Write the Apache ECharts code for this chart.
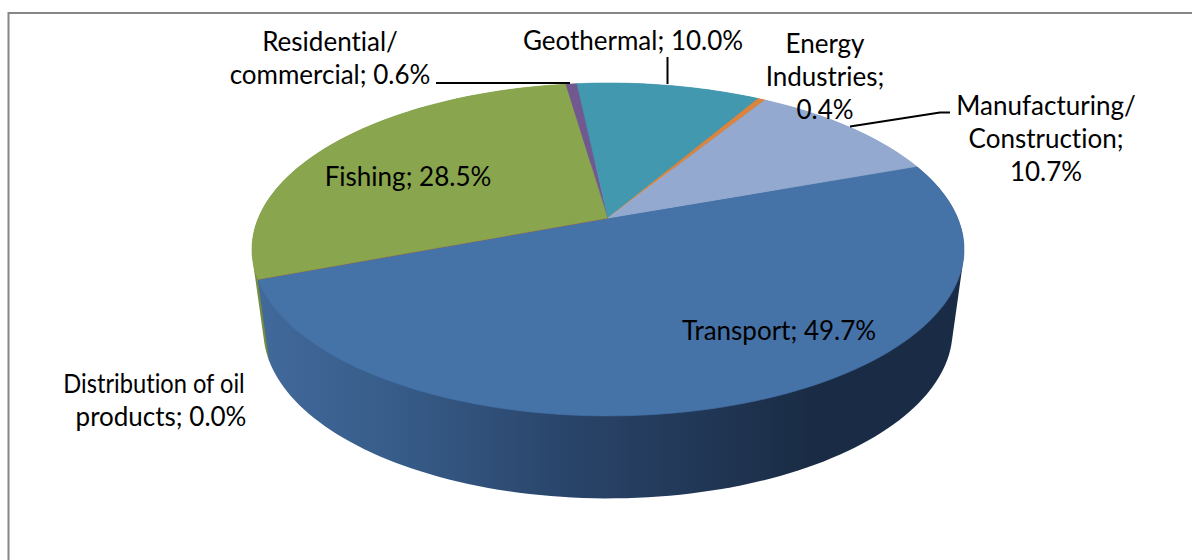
<!DOCTYPE html>
<html><head><meta charset="utf-8">
<style>html,body{margin:0;padding:0;background:#fff}#c{width:1192px;height:560px}
#c text{font-variant-ligatures:none !important;font-feature-settings:"liga" 0,"clig" 0 !important}</style>
<script src="https://cdn.jsdelivr.net/npm/echarts@6/dist/echarts.min.js"></script>
</head><body><div id="c"></div>
<script>
// ---- data, clockwise from the first slice ----
const categories = ['Transport','Distribution of oil products','Fishing','Residential/commercial','Geothermal','Energy Industries','Manufacturing/Construction'];
const shares = [49.7, 0.0, 28.5, 0.6, 10.0, 0.4, 10.7];
const labelLines = [
  ['Transport; 49.7%'],
  ['Distribution of oil','products; 0.0%'],
  ['Fishing; 28.5%'],
  ['Residential/','commercial; 0.6%'],
  ['Geothermal; 10.0%'],
  ['Energy','Industries;','0.4%'],
  ['Manufacturing/','Construction;','10.7%']
];
const sliceColors = ['#4572A7','#AA4643','#89A54E','#71588F','#4198AF','#DB843D','#93A9CF'];
const sideColors  = ['#4572A7','#8a3836','#738c3f','#5c4775','#357d90','#b36c32','#7a8eb0'];
// label anchor (centre x, first-line centre y); per-line x shift and horizontal squeeze
const labelAnchors = [[779,329.5],[154,382.5],[408,175.5],[330,40.5],[633,39.5],[825,42.5],[1046,104.5]];
const lineShift = {1:[0,7]};
const lineSqueeze = {1:[0.91,1]};
const leaders = [null,null,null,[[436,83],[570,83]],[[667.5,57],[667.5,84]],null,[[950,112.5],[940,112.5],[850,126.5]]];

// ---- projection of the tilted disc ----
const apex = {x:608,y:218}, cX = 349.6, kP = 0.189, aP = -119.3, startDeg = 20;
const floor = {sx:0.968, sy:1.01, y:298.5};
const FONT = '26px Lato';
const LINE = 33;

function rim(deg, lower){
  const t = deg*Math.PI/180, X = Math.cos(t), Y = Math.sin(t), w = 1+kP*Y;
  const x = apex.x + cX*X/w, y = (apex.y + aP*Y)/w;
  return lower ? [apex.x+(x-apex.x)*floor.sx, floor.y+(y-apex.y)*floor.sy] : [x,y];
}
const total = shares.reduce((a,b)=>a+b,0);
function range(i){
  let s = 0; for(let j=0;j<i;j++) s += shares[j];
  return [startDeg - s/total*360, startDeg - (s+shares[i])/total*360];
}
function arc(a,b,lower){
  const n = Math.max(1,Math.ceil(Math.abs(a-b)/1.5)), o=[];
  for(let i=0;i<=n;i++) o.push(rim(a+(b-a)*i/n,lower));
  return o;
}
function hull(pts){
  const p = pts.slice().sort((a,b)=>a[0]-b[0]||a[1]-b[1]);
  const cr=(o,a,b)=>(a[0]-o[0])*(b[1]-o[1])-(a[1]-o[1])*(b[0]-o[0]);
  const l=[],u=[];
  for(const q of p){while(l.length>1&&cr(l[l.length-2],l[l.length-1],q)<=0)l.pop();l.push(q);}
  for(const q of p.slice().reverse()){while(u.length>1&&cr(u[u.length-2],u[u.length-1],q)<=0)u.pop();u.push(q);}
  return l.slice(0,-1).concat(u.slice(0,-1));
}
const idx = shares.map((_,i)=>i);
const wallGradient = new echarts.graphic.LinearGradient(258,0,810,0,[
  {offset:0,color:'#41699b'},{offset:0.25,color:'#375c89'},{offset:0.55,color:'#2a456b'},{offset:1,color:'#1a2c45'}
],true);

const option = {
  animation:false,
  backgroundColor:'#fff',
  graphic:[{type:'rect',silent:true,z:0,shape:{x:8.5,y:13,width:1300,height:700},style:{fill:'#fff',stroke:'#868686',lineWidth:2}}],
  series:[
    {type:'custom',coordinateSystem:'none',z:1,silent:true,name:'wall',
     data:idx.slice().reverse().map(i=>({name:categories[i],value:[shares[i],i]})),
     renderItem(p,api){
       const i=api.value(1), [a,b]=range(i);
       if(a===b) return {type:'group',children:[]};
       return {type:'polygon',shape:{points:hull(arc(a,b,false).concat(arc(a,b,true)))},
               style:{fill:i===0?wallGradient:sideColors[i]}};
     }},
    {type:'custom',coordinateSystem:'none',z:2,silent:true,name:'top',
     data:idx.map(i=>({name:categories[i],value:[shares[i],i]})),
     renderItem(p,api){
       const i=api.value(1), [a,b]=range(i);
       return {type:'polygon',shape:{points:[[apex.x,apex.y]].concat(arc(a,b,false))},
               style:{fill:sliceColors[i],stroke:sliceColors[i],lineWidth:0.6}};
     }},
    {type:'custom',coordinateSystem:'none',z:3,silent:true,name:'labels',
     data:idx.map(i=>({name:categories[i],value:[shares[i],i]})),
     renderItem(p,api){
       const i=api.value(1), c=[], [x,y]=labelAnchors[i];
       labelLines[i].forEach((t,k)=>c.push({type:'text',
         x:x+(lineShift[i]?lineShift[i][k]:0),y:y+k*LINE,scaleX:lineSqueeze[i]?lineSqueeze[i][k]:1,
         style:{text:t,x:0,y:0,align:'center',verticalAlign:'middle',font:FONT,fill:'#000'}}));
       if(leaders[i]) c.push({type:'polyline',shape:{points:leaders[i]},style:{fill:'none',stroke:'#000',lineWidth:2}});
       return {type:'group',children:c};
     }}
  ]
};
echarts.init(document.getElementById('c'),null,{renderer:'svg'}).setOption(option);
</script></body></html>
